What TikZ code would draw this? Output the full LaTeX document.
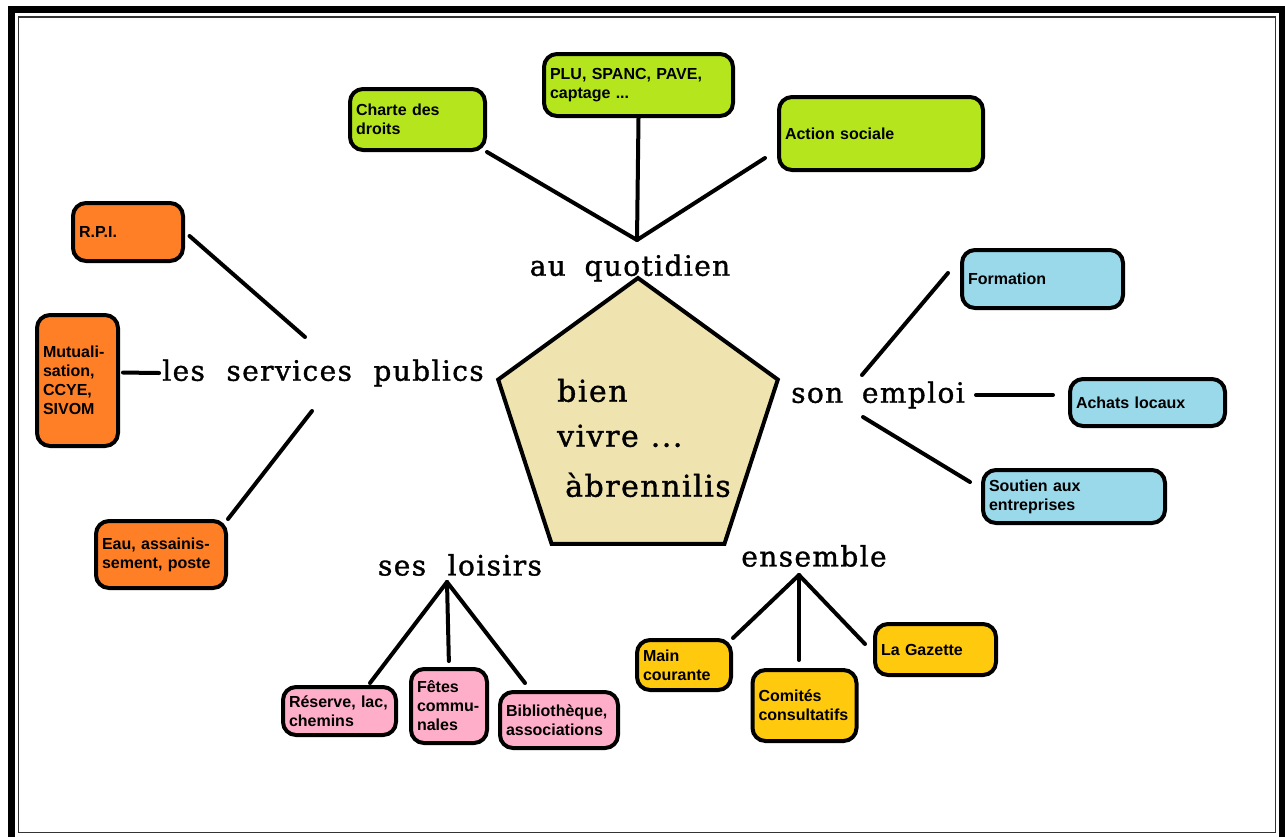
\documentclass[tikz,border=0pt]{standalone}
\usepackage{fontspec}
\setmainfont{Liberation Sans}
\newfontfamily\uncial[LetterSpace=5, FakeBold=1.2]{DejaVu Serif}
\usetikzlibrary{shapes.geometric}
\definecolor{leaf}{RGB}{181,230,29}
\definecolor{tangerine}{RGB}{255,127,39}
\definecolor{sky}{RGB}{153,217,234}
\definecolor{rose}{RGB}{255,174,201}
\definecolor{gold}{RGB}{255,201,14}
\definecolor{sand}{RGB}{239,228,176}

\begin{document}
\begin{tikzpicture}[x=1pt, y=-1pt,
  box/.style={draw, line width=4pt, rounded corners=13pt, inner xsep=6pt, inner ysep=3pt, align=left, font=\bfseries\fontsize{16}{19}\selectfont},
  theme/.style={inner sep=3pt, font=\uncial\fontsize{28}{30}\selectfont},
  link/.style={line width=4pt, line cap=round}]
\useasboundingbox (0,0) rectangle (1285,836);
\clip (0,0) rectangle (1285,836);

\draw[line width=7pt] (11.5,9.5) rectangle (1282.5,842);
\draw[line width=1.5pt, black!80] (18.3,17) rectangle (1275.5,832.7);

\coordinate (qhub) at (637,240);
\coordinate (qend) at (765,158);
\coordinate (shub) at (305,337);
\coordinate (stail) at (312,411);
\coordinate (ehigh) at (862,375);
\coordinate (elow) at (863,417);
\coordinate (fend) at (948,273);
\coordinate (aend) at (1053,395);
\coordinate (send) at (970,482);
\coordinate (lhub) at (447,582);
\coordinate (rend) at (370,683);
\coordinate (bend) at (525,683);
\coordinate (nhub) at (799,575);
\coordinate (cend) at (799,660);
\coordinate (gend) at (865,644);

\node[box, fill=leaf, text width=123pt, minimum height=61pt] (charte) at (417.5,119.5) {Charte des\\droits};
\node[box, fill=leaf, text width=177pt, minimum height=62pt] (plu) at (638.5,85) {PLU, SPANC, PAVE,\\captage ...};
\node[box, fill=leaf, text width=192pt, minimum height=73pt] (action) at (881,133.5) {Action sociale};

\node[box, fill=tangerine, text width=98pt, minimum height=58pt] (rpi) at (128,232) {R.P.I.};
\node[box, fill=tangerine, text width=69pt, minimum height=131pt] (mutual) at (77.5,380.5) {Mutuali-\\sation,\\CCYE,\\SIVOM};
\node[box, fill=tangerine, text width=118pt, minimum height=67pt] (eau) at (161,554.5) {Eau, assainis-\\sement, poste};

\node[box, fill=sky, text width=149pt, minimum height=58pt] (formation) at (1042.5,279) {Formation};
\node[box, fill=sky, text width=143pt, minimum height=47pt] (achats) at (1147.5,402.5) {Achats locaux};
\node[box, fill=sky, text width=170pt, minimum height=53pt] (soutien) at (1074,496.5) {Soutien aux\\entreprises};

\node[box, fill=rose, text width=101pt, minimum height=48pt] (reserve) at (339.5,711) {Réserve, lac,\\chemins};
\node[box, fill=rose, text width=64pt, minimum height=74pt] (fetes) at (449,706) {Fêtes\\commu-\\nales};
\node[box, fill=rose, text width=106pt, minimum height=56pt] (biblio) at (559,720) {Bibliothèque,\\associations};

\node[box, fill=gold, text width=82pt, minimum height=50pt] (main) at (684,665) {Main\\courante};
\node[box, fill=gold, text width=92pt, minimum height=71pt] (comites) at (804.5,705.5) {Comités\\consultatifs};
\node[box, fill=gold, text width=109pt, minimum height=51pt] (gazette) at (935.5,649.5) {La Gazette};

\node[regular polygon, regular polygon sides=5, minimum size=294pt, inner sep=0pt, draw, line width=4pt, fill=sand] (village) at (638,425) {};
\node[inner sep=0pt, anchor=west, align=left, font=\uncial\fontsize{30}{45}\selectfont] (title) at (557,438) {bien\\vivre\hspace{.4em}...\\[5pt]\hspace{8pt}àbrennilis};

\node[theme] (quot) at (630,268) {au\hspace{.3em} quotidien};
\node[theme] (serv) at (323,373) {les\hspace{.4em} services\hspace{.4em} publics};
\node[theme] (emploi) at (878,395) {son\hspace{.3em} emploi};
\node[theme] (loisirs) at (460,565) {ses\hspace{.4em} loisirs};
\node[theme] (ens) at (814,556) {ensemble};

\draw[link] (qhub) -- (charte.south east);
\draw[link] (qhub) -- (plu.south);
\draw[link] (qhub) -- (qend);
\draw[link, shorten <=6pt] (rpi.east) -- (shub);
\draw[link, shorten <=3pt] ([yshift=8pt]mutual.east) -- (serv.west);
\draw[link] (stail) -- (eau.north east);
\draw[link] (ehigh) -- (fend);
\draw[link, shorten <=8pt] (emploi.east) -- (aend);
\draw[link] (elow) -- (send);
\draw[link] (lhub) -- (rend);
\draw[link, shorten >=6pt] (lhub) -- (fetes.north);
\draw[link] (lhub) -- (bend);
\draw[link] (nhub) -- (main.north east);
\draw[link] (nhub) -- (cend);
\draw[link] (nhub) -- (gend);
\end{tikzpicture}
\end{document}
